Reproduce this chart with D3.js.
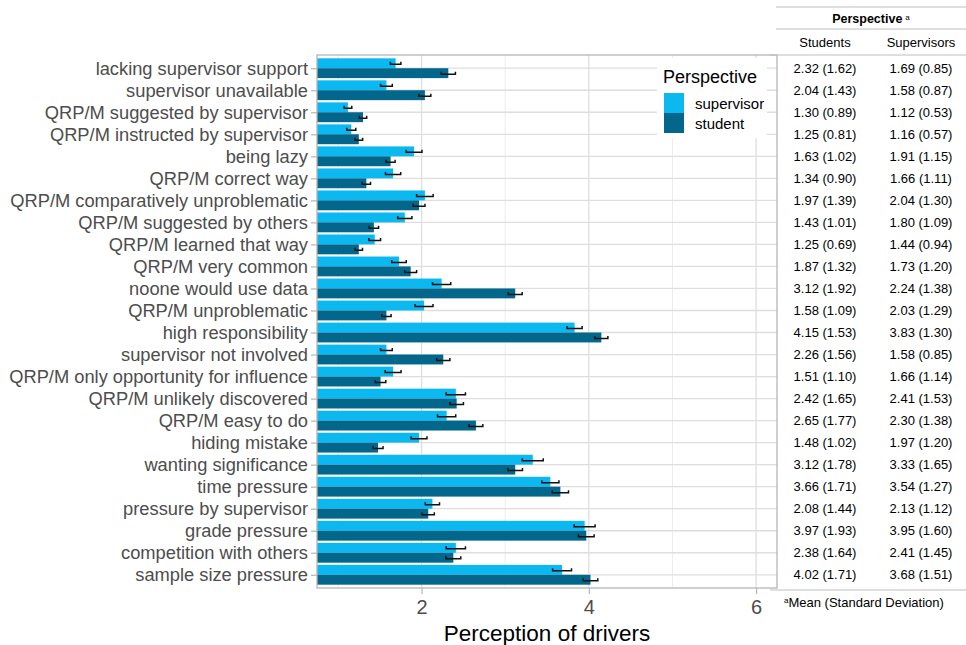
<!DOCTYPE html>
<html>
<head>
<meta charset="utf-8">
<script src="https://cdn.jsdelivr.net/npm/d3@7"></script>
<style>
  html, body { margin: 0; padding: 0; background: #fff; }
  svg { display: block; font-family: "Liberation Sans", Arial, sans-serif; }
</style>
</head>
<body>
<svg id="chart" width="966" height="645"></svg>
<script>
// Drivers, top to bottom
const drivers = [
  "lacking supervisor support", "supervisor unavailable", "QRP/M suggested by supervisor",
  "QRP/M instructed by supervisor", "being lazy", "QRP/M correct way",
  "QRP/M comparatively unproblematic", "QRP/M suggested by others", "QRP/M learned that way",
  "QRP/M very common", "noone would use data", "QRP/M unproblematic",
  "high responsibility", "supervisor not involved", "QRP/M only opportunity for influence",
  "QRP/M unlikely discovered", "QRP/M easy to do", "hiding mistake",
  "wanting significance", "time pressure", "pressure by supervisor",
  "grade pressure", "competition with others", "sample size pressure"
];

// Means and standard deviations per perspective
const studentMean = [2.32, 2.04, 1.30, 1.25, 1.63, 1.34, 1.97, 1.43, 1.25, 1.87, 3.12, 1.58,
                     4.15, 2.26, 1.51, 2.42, 2.65, 1.48, 3.12, 3.66, 2.08, 3.97, 2.38, 4.02];
const studentSD   = [1.62, 1.43, 0.89, 0.81, 1.02, 0.90, 1.39, 1.01, 0.69, 1.32, 1.92, 1.09,
                     1.53, 1.56, 1.10, 1.65, 1.77, 1.02, 1.78, 1.71, 1.44, 1.93, 1.64, 1.71];
const supervisorMean = [1.69, 1.58, 1.12, 1.16, 1.91, 1.66, 2.04, 1.80, 1.44, 1.73, 2.24, 2.03,
                        3.83, 1.58, 1.66, 2.41, 2.30, 1.97, 3.33, 3.54, 2.13, 3.95, 2.41, 3.68];
const supervisorSD   = [0.85, 0.87, 0.53, 0.57, 1.15, 1.11, 1.30, 1.09, 0.94, 1.20, 1.38, 1.29,
                        1.30, 0.85, 1.14, 1.53, 1.38, 1.20, 1.65, 1.27, 1.12, 1.60, 1.45, 1.51];

// Standard errors shown as error bars
const studentSE    = [0.085, 0.071, 0.044, 0.046, 0.054, 0.050, 0.071, 0.056, 0.044, 0.071, 0.083, 0.056,
                      0.078, 0.079, 0.063, 0.081, 0.083, 0.060, 0.087, 0.097, 0.073, 0.093, 0.089, 0.087];
const supervisorSE = [0.063, 0.070, 0.046, 0.054, 0.095, 0.091, 0.099, 0.085, 0.070, 0.087, 0.109, 0.107,
                      0.090, 0.070, 0.095, 0.115, 0.109, 0.095, 0.125, 0.103, 0.085, 0.125, 0.115, 0.113];

const xTicks = [2, 4, 6];
const xMinor = [1, 3, 5];

const groups = ["supervisor", "student"];
const colors = { supervisor: "#0bb8f0", student: "#03678c" };

const svg = d3.select("#chart");

const panel = { left: 317, right: 777, top: 55, bottom: 588 };

const x = d3.scaleLinear().domain([0.75, 6.25]).range([panel.left, panel.right]);
const y = d3.scalePoint().domain(drivers).range([panel.top, panel.bottom]).padding(0.6);
const step = y.step();
const dodge = d3.scaleBand().domain(groups).range([-0.45 * step, 0.45 * step]);

const rows = drivers.map((d, i) => ({
  driver: d,
  supervisor: { mean: supervisorMean[i], sd: supervisorSD[i], se: supervisorSE[i] },
  student: { mean: studentMean[i], sd: studentSD[i], se: studentSE[i] }
}));

// Panel background + grid
const g = svg.append("g");
g.append("rect").attr("x", panel.left).attr("y", panel.top)
  .attr("width", panel.right - panel.left).attr("height", panel.bottom - panel.top)
  .attr("fill", "#fff");

g.selectAll(".minor").data(xMinor).join("line")
  .attr("x1", d => x(d)).attr("x2", d => x(d))
  .attr("y1", panel.top).attr("y2", panel.bottom)
  .attr("stroke", "#ededed").attr("stroke-width", 1);
g.selectAll(".major").data(xTicks).join("line")
  .attr("x1", d => x(d)).attr("x2", d => x(d))
  .attr("y1", panel.top).attr("y2", panel.bottom)
  .attr("stroke", "#dedede").attr("stroke-width", 1.3);
g.selectAll(".hgrid").data(drivers).join("line")
  .attr("x1", panel.left).attr("x2", panel.right)
  .attr("y1", d => y(d)).attr("y2", d => y(d))
  .attr("stroke", "#dedede").attr("stroke-width", 1.3);

// Bars (clipped to the panel)
svg.append("clipPath").attr("id", "clip").append("rect")
  .attr("x", panel.left).attr("y", panel.top)
  .attr("width", panel.right - panel.left).attr("height", panel.bottom - panel.top);

const bars = svg.append("g").attr("clip-path", "url(#clip)");
groups.forEach(gr => {
  bars.selectAll(".bar-" + gr).data(rows).join("rect")
    .attr("x", x(0))
    .attr("y", d => y(d.driver) + dodge(gr))
    .attr("width", d => x(d[gr].mean) - x(0))
    .attr("height", dodge.bandwidth())
    .attr("fill", colors[gr]);
});

// Error bars
const eb = svg.append("g").attr("stroke", "#111").attr("stroke-width", 1.5).attr("fill", "none");
groups.forEach(gr => {
  rows.forEach(d => {
    const cy = y(d.driver) + dodge(gr) + dodge.bandwidth() / 2 + 1;
    const x0 = x(d[gr].mean - d[gr].se), x1 = x(d[gr].mean + d[gr].se);
    eb.append("path")
      .attr("d", `M${x0},${cy - 2.5}L${x0},${cy}L${x1},${cy}L${x1},${cy - 2.5}`);
  });
});

// Panel border
svg.append("rect").attr("x", panel.left).attr("y", panel.top)
  .attr("width", panel.right - panel.left).attr("height", panel.bottom - panel.top)
  .attr("fill", "none").attr("stroke", "#b5b5b5").attr("stroke-width", 1.3);

// Y axis
const yAxis = svg.append("g").attr("transform", `translate(${panel.left},0)`)
  .call(d3.axisLeft(y).tickSize(6).tickPadding(3));
yAxis.select(".domain").remove();
yAxis.selectAll(".tick line").attr("stroke", "#b5b5b5").attr("stroke-width", 1.2);
yAxis.selectAll(".tick text").attr("fill", "#4d4d4d").attr("font-size", "18.3px")
  .attr("font-family", "'Liberation Sans', Arial, sans-serif");

// X axis
const xAxis = svg.append("g").attr("transform", `translate(0,${panel.bottom})`)
  .call(d3.axisBottom(x).tickValues(xTicks).tickSize(6).tickPadding(6).tickFormat(d3.format("d")));
xAxis.select(".domain").remove();
xAxis.selectAll(".tick line").attr("stroke", "#b5b5b5").attr("stroke-width", 1.2);
xAxis.selectAll(".tick text").attr("fill", "#4d4d4d").attr("font-size", "20px")
  .attr("font-family", "'Liberation Sans', Arial, sans-serif");

svg.append("text").attr("x", (panel.left + panel.right) / 2).attr("y", 641)
  .attr("text-anchor", "middle").attr("font-size", "22.5px").attr("fill", "#000")
  .text("Perception of drivers");

// Legend
const lg = svg.append("g").attr("transform", "translate(657,58)");
lg.append("rect").attr("x", 0).attr("y", 0).attr("width", 110).attr("height", 80).attr("fill", "#fff");
lg.append("text").attr("x", 6).attr("y", 25).attr("font-size", "18px").attr("fill", "#000").text("Perspective");
groups.forEach((gr, i) => {
  lg.append("rect").attr("x", 7).attr("y", 35 + i * 20).attr("width", 20).attr("height", 20)
    .attr("fill", colors[gr]);
  lg.append("text").attr("x", 38).attr("y", 51 + i * 20).attr("font-size", "15px")
    .attr("fill", "#000").text(gr);
});

// Summary table
const fmt = d3.format(".2f");
const tbl = svg.append("g");
const colStudents = 825, colSupervisors = 921;
const lineColor = "#bdbdbd";
[[776, 7], [776, 29], [770, 55], [770, 590]].forEach(([x1, yy]) => {
  tbl.append("line").attr("x1", x1).attr("x2", 966).attr("y1", yy).attr("y2", yy)
    .attr("stroke", lineColor).attr("stroke-width", 1.2);
});
const head = tbl.append("text").attr("x", 871).attr("y", 23).attr("text-anchor", "middle")
  .attr("font-size", "12.5px").attr("font-weight", "bold").attr("fill", "#000");
head.append("tspan").text("Perspective");
head.append("tspan").attr("font-size", "8px").attr("dx", 3).attr("dy", -3).attr("font-weight", "normal").text("a");
tbl.append("text").attr("x", colStudents).attr("y", 47).attr("text-anchor", "middle")
  .attr("font-size", "13px").attr("fill", "#000").text("Students");
tbl.append("text").attr("x", colSupervisors).attr("y", 47).attr("text-anchor", "middle")
  .attr("font-size", "13px").attr("fill", "#000").text("Supervisors");

rows.forEach(d => {
  const yy = y(d.driver) + 4.5;
  tbl.append("text").attr("x", colStudents).attr("y", yy).attr("text-anchor", "middle")
    .attr("font-size", "13px").attr("fill", "#000")
    .text(`${fmt(d.student.mean)} (${fmt(d.student.sd)})`);
  tbl.append("text").attr("x", colSupervisors).attr("y", yy).attr("text-anchor", "middle")
    .attr("font-size", "13px").attr("fill", "#000")
    .text(`${fmt(d.supervisor.mean)} (${fmt(d.supervisor.sd)})`);
});

const foot = tbl.append("text").attr("x", 784).attr("y", 607).attr("font-size", "13px").attr("fill", "#000");
foot.append("tspan").attr("font-size", "8px").attr("dy", -4).text("a");
foot.append("tspan").attr("dy", 4).text("Mean (Standard Deviation)");
</script>
</body>
</html>
